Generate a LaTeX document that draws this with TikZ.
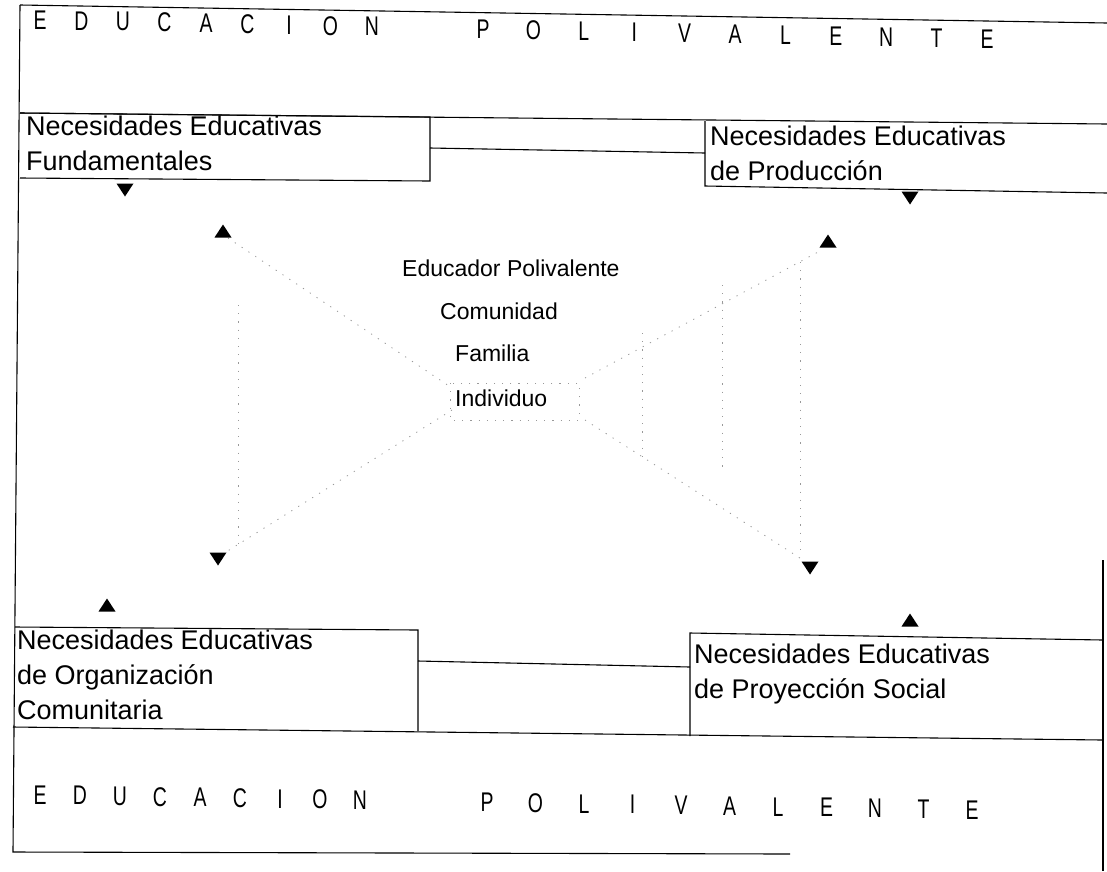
\documentclass[tikz,border=0pt]{standalone}
\usepackage{fontspec}
\setmainfont{Liberation Sans}
\newfontfamily\headfont[FakeStretch=0.72]{Liberation Sans}
\begin{document}
\begin{tikzpicture}[x=1pt,y=-1pt,
  frame/.style={line width=1.1pt, draw=black},
  boxtext/.style={font=\fontsize{27}{35}\selectfont, align=left, anchor=north west, inner sep=0pt},
  ctext/.style={font=\fontsize{23}{28}\selectfont, anchor=west, inner sep=0pt},
  head/.style={font=\headfont\fontsize{27}{27}\selectfont, inner sep=0pt},
  faint/.style={draw=black!40, line width=0.8pt, dash pattern=on 1.2pt off 7pt},
  uptri/.pic={\fill (-8.5,6.5) -- (8.5,6.5) -- (0,-6.5) -- cycle;},
  downtri/.pic={\fill (-8.5,-6.5) -- (8.5,-6.5) -- (0,6.5) -- cycle;}]
\useasboundingbox (0,0) rectangle (1107,871);
\fill[white] (0,0) rectangle (1107,871);

% frame and bands
\coordinate (tl) at (20,5);   \coordinate (tr) at (1107,23);
\coordinate (hl) at (20,113); \coordinate (hr) at (1107,124);
\coordinate (bl) at (13,852); \coordinate (br) at (790,854);
\coordinate (ml) at (13,727); \coordinate (mr) at (1103,740);
\coordinate (rt) at (1103,560); \coordinate (rb) at (1103,871);
\draw[frame] (tl) -- (tr);
\draw[frame] (hl) -- (hr);
\draw[frame] (tl) -- (bl) -- (br);
\draw[frame] (ml) -- (mr);
\draw[frame] (rt) -- (rb);

% boxes
\coordinate (f1) at (20,113); \coordinate (f2) at (430,117);
\coordinate (f3) at (430,181); \coordinate (f4) at (20,178);
\draw[frame] (f1) -- (f2) -- (f3) -- (f4);
\coordinate (p1) at (705,121); \coordinate (p2) at (705,186);
\coordinate (p3) at (1107,193);
\draw[frame] (p1) -- (p2) -- (p3);
\coordinate (o1) at (15,627); \coordinate (o2) at (418,630);
\coordinate (o3) at (418,731);
\draw[frame] (o1) -- (o2) -- (o3);
\coordinate (s1) at (690,633); \coordinate (s2) at (690,736);
\coordinate (s3) at (1103,640);
\draw[frame] (s2) -- (s1) -- (s3);

% connectors between boxes
\coordinate (fe) at (430,148); \coordinate (pw) at (705,153);
\coordinate (oe) at (418,661); \coordinate (sw) at (690,667);
\draw[frame] (fe) -- (pw);
\draw[frame] (oe) -- (sw);

% box texts
\node[boxtext] (tf) at (26,116) {Necesidades Educativas\\Fundamentales};
\node[boxtext] (tp) at (710,126) {Necesidades Educativas\\de Producción};
\node[boxtext] (to) at (17,630) {Necesidades Educativas\\de Organización\\Comunitaria};
\node[boxtext] (ts) at (694,644) {Necesidades Educativas\\de Proyección Social};

% centre texts
\node[ctext] (c1) at (402,268) {Educador Polivalente};
\node[ctext] (c2) at (440,311) {Comunidad};
\node[ctext] (c3) at (455,353) {Familia};
\node[ctext] (c4) at (455,398) {Individuo};

% headings
\foreach \l [count=\i from 0] in {E,D,U,C,A,C,I,O,N}{
  \node[head] (th\i) at ({40+41.5*\i},{20+0.02*(41.5*\i)}) {\l};
  \node[head] (bh\i) at ({40+40*\i},{795+0.016*(40*\i)}) {\l};
}
\foreach \l [count=\j from 0] in {P,O,L,I,V,A,L,E,N,T,E}{
  \node[head] (tq\j) at ({483+50.4*\j},{20+0.02*(443+50.4*\j)}) {\l};
  \node[head] (bq\j) at ({487+48.5*\j},{795+0.016*(447+48.5*\j)}) {\l};
}

% faint dotted lines
\coordinate (la) at (228,238); \coordinate (lb) at (452,388);
\coordinate (lc) at (452,410); \coordinate (ld) at (226,552);
\coordinate (le) at (238,305); \coordinate (lf) at (238,548);
\draw[faint] (la) -- (lb);
\draw[faint] (lc) -- (ld);
\draw[faint] (le) -- (lf);
\coordinate (ia) at (450,383); \coordinate (ib) at (579,420);
\draw[faint] (ia) rectangle (ib);
\coordinate (ra) at (585,378); \coordinate (rb2) at (818,252);
\coordinate (rc) at (585,420); \coordinate (rd) at (803,560);
\draw[faint] (ra) -- (rb2);
\draw[faint] (rc) -- (rd);
\coordinate (v1a) at (642,333); \coordinate (v1b) at (642,462);
\coordinate (v2a) at (722,285); \coordinate (v2b) at (722,470);
\coordinate (v3a) at (800,262); \coordinate (v3b) at (800,552);
\draw[faint] (v1a) -- (v1b);
\draw[faint] (v2a) -- (v2b);
\draw[faint] (v3a) -- (v3b);

% arrow heads
\pic at (125,190) {downtri};
\pic at (223,231) {uptri};
\pic at (910,198) {downtri};
\pic at (828,241) {uptri};
\pic at (218,559) {downtri};
\pic at (107,605) {uptri};
\pic at (810,568) {downtri};
\pic at (910,620) {uptri};
\end{tikzpicture}
\end{document}
